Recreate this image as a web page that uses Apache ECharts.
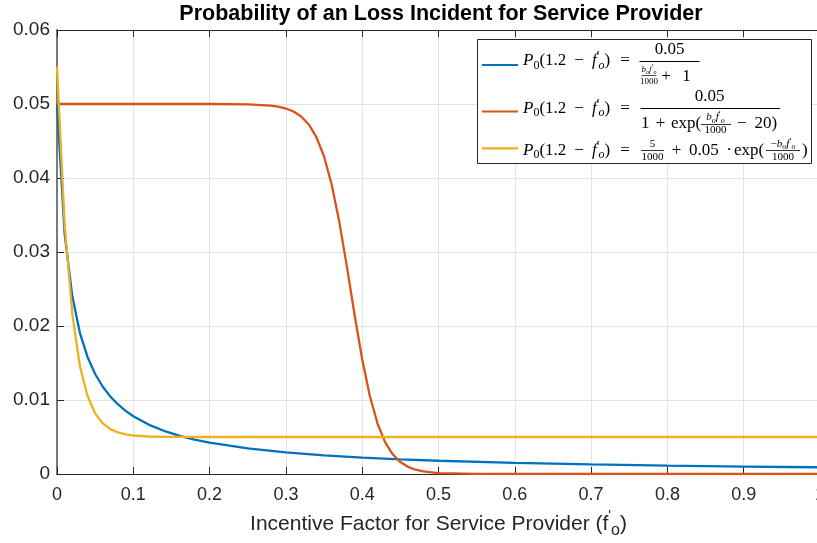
<!DOCTYPE html>
<html>
<head>
<meta charset="utf-8">
<script src="https://cdn.jsdelivr.net/npm/echarts@6/dist/echarts.min.js"></script>
<style>
  html, body { margin: 0; padding: 0; background: #fff; }
  #chart { width: 817px; height: 543px; }
</style>
</head>
<body>
<div id="chart"></div>
<script>
// Hyperbolic decay model
const blueF = [0, 0.01, 0.02, 0.03, 0.04, 0.05, 0.06, 0.07, 0.08, 0.09, 0.10, 0.12, 0.14, 0.16, 0.18, 0.20, 0.25, 0.30, 0.35, 0.40, 0.45, 0.50, 0.60, 0.70, 0.80, 0.90, 1.00];
const blueP = [0.05000, 0.03247, 0.02404, 0.01908, 0.01582, 0.01351, 0.01179, 0.01046, 0.00940, 0.00853, 0.00781, 0.00668, 0.00584, 0.00519, 0.00466, 0.00424, 0.00345, 0.00291, 0.00251, 0.00221, 0.00198, 0.00179, 0.00150, 0.00129, 0.00113, 0.00101, 0.00091];

// Logistic model
const redF = [0, 0.10, 0.20, 0.25, 0.28, 0.29, 0.30, 0.31, 0.32, 0.33, 0.34, 0.35, 0.36, 0.37, 0.38, 0.39, 0.40, 0.41, 0.42, 0.43, 0.44, 0.45, 0.46, 0.47, 0.48, 0.50, 0.55, 0.60, 1.00];
const redP = [0.05000, 0.05000, 0.05000, 0.04995, 0.04978, 0.04964, 0.04939, 0.04899, 0.04832, 0.04724, 0.04553, 0.04291, 0.03912, 0.03407, 0.02799, 0.02152, 0.01550, 0.01054, 0.00685, 0.00431, 0.00266, 0.00161, 0.00097, 0.00058, 0.00035, 0.00012, 0.00001, 0.00000, 0.00000];

// Exponential decay to a floor
const yellowF = [0, 0.01, 0.02, 0.03, 0.04, 0.05, 0.06, 0.07, 0.08, 0.09, 0.10, 0.12, 0.14, 0.16, 0.20, 1.00];
const yellowP = [0.05500, 0.03385, 0.02164, 0.01460, 0.01054, 0.00820, 0.00684, 0.00606, 0.00561, 0.00535, 0.00520, 0.00507, 0.00502, 0.00501, 0.00500, 0.00500];

const xTicks = ['0', '0.1', '0.2', '0.3', '0.4', '0.5', '0.6', '0.7', '0.8', '0.9', '1'];
const yTicks = ['0', '0.01', '0.02', '0.03', '0.04', '0.05', '0.06'];

const titleText = 'Probability of an Loss Incident for Service Provider';
const seriesColors = ['#0072BD', '#D95319', '#EDB120'];

const SANS = '"Liberation Sans", Arial, Helvetica, sans-serif';
const SERIF = '"Liberation Serif", "DejaVu Serif", serif';
const INK = '#000000';
const AXIS = '#262626';

function pairs(xs, ys) { return xs.map((x, i) => [x, ys[i]]); }

function richFor(size) {
  const sub = Math.round(size * 0.7);
  const pr = Math.round(size * 0.85);
  const lh = Math.round(size * 1.25);
  const base = { fontFamily: SERIF, fill: INK, color: INK };
  return {
    r: Object.assign({}, base, { fontSize: size, lineHeight: lh }),
    i: Object.assign({}, base, { fontSize: size, lineHeight: lh, fontStyle: 'italic' }),
    s: Object.assign({}, base, { fontSize: sub, lineHeight: sub, verticalAlign: 'bottom' }),
    si: Object.assign({}, base, { fontSize: sub, lineHeight: sub, verticalAlign: 'bottom', fontStyle: 'italic' }),
    p: Object.assign({}, base, { fontSize: pr, lineHeight: pr, verticalAlign: 'top', width: 2 }),
    g: Object.assign({}, base, { fontSize: size, lineHeight: lh, width: Math.round(size * 0.47) }),
    gg: Object.assign({}, base, { fontSize: size, lineHeight: lh, width: Math.round(size * 0.6) })
  };
}

function mtext(x, y, text, size, align) {
  const a = align || 'center';
  return {
    type: 'text', x: x, y: y, z: 101,
    style: {
      text: text, rich: richFor(size),
      fontFamily: SERIF, fontSize: size, fill: INK,
      align: a, verticalAlign: 'middle', textAlign: a, textVerticalAlign: 'middle'
    }
  };
}
function rule(x1, x2, y, w) {
  return { type: 'line', z: 101, shape: { x1: x1, y1: y, x2: x2, y2: y }, style: { stroke: INK, lineWidth: w || 1 } };
}
function swatch(y, color) {
  return { type: 'line', z: 101, shape: { x1: 482, y1: y, x2: 518, y2: y }, style: { stroke: color, lineWidth: 2.2 } };
}

const LHS = '{i|P}{s|0}{r|(1.2}{g| }{r|−}{g| }{i|f}{p|′}{si|o}{r|)}{gg| }{r|=}';
const BOF = '{i|b}{si|o}{i|f}{p|′}{si|o}';

const legendBox = [
  { type: 'rect', z: 100, shape: { x: 477.5, y: 39.5, width: 334, height: 124 }, style: { fill: '#ffffff', stroke: AXIS, lineWidth: 1 } },
  // first entry
  swatch(65, seriesColors[0]),
  mtext(523, 61, LHS, 17, 'left'),
  mtext(669.5, 49.5, '{r|0.05}', 17),
  rule(639.5, 699.5, 61.5, 1),
  mtext(649, 69.5, BOF, 9),
  rule(641.5, 656.5, 75.5, 0.7),
  mtext(649, 81.5, '{r|1000}', 9),
  mtext(666, 76.5, '{r|+}', 17),
  mtext(686.5, 76.5, '{r|1}', 17),
  // second entry
  swatch(111.5, seriesColors[1]),
  mtext(523, 108.5, LHS, 17, 'left'),
  mtext(709.5, 97, '{r|0.05}', 17),
  rule(640.5, 780, 108.5, 1),
  mtext(641, 124, '{r|1}', 17, 'left'),
  mtext(660.5, 124, '{r|+}', 17),
  mtext(671, 124, '{r|exp(}', 17, 'left'),
  mtext(715.5, 117.5, BOF, 11),
  rule(701, 731, 124.5, 0.8),
  mtext(715.5, 130.5, '{r|1000}', 11),
  mtext(737, 124, '{r|−}{g| }{r|20)}', 17, 'left'),
  // third entry
  swatch(148.3, seriesColors[2]),
  mtext(523, 150.7, LHS, 17, 'left'),
  mtext(652.5, 144, '{r|5}', 11),
  rule(641, 664, 150.5, 0.8),
  mtext(652.5, 157, '{r|1000}', 11),
  mtext(676.5, 150.7, '{r|+}', 17),
  mtext(689, 150.7, '{r|0.05}', 17, 'left'),
  mtext(729, 150.7, '{r|·}', 17),
  mtext(734, 150.7, '{r|exp(}', 17, 'left'),
  mtext(783, 144, '{r|−}' + BOF, 11),
  rule(766, 800, 150.5, 0.8),
  mtext(783, 157, '{r|1000}', 11),
  mtext(802, 150.7, '{r|)}', 17, 'left')
];

const chart = echarts.init(document.getElementById('chart'), null, { renderer: 'canvas' });

const scaleX = { type: 'value', min: 0, max: 1, interval: 0.1 };

chart.setOption({
  animation: false,
  backgroundColor: '#ffffff',
  title: {
    text: titleText,
    left: 441, top: 3, padding: 0,
    textAlign: 'center',
    textStyle: { fontFamily: SANS, fontSize: 21.5, fontWeight: 'bold', color: '#000000' }
  },
  grid: { left: 57, top: 30, width: 763, height: 444, containLabel: false, outerBoundsMode: 'none' },
  xAxis: [
    Object.assign({}, scaleX, {
      position: 'bottom',
      axisLine: { show: true, lineStyle: { color: AXIS, width: 1 } },
      axisTick: { show: true, inside: true, length: 7, lineStyle: { color: AXIS } },
      splitLine: { show: true, lineStyle: { color: '#e3e3e3', width: 1 } },
      axisLabel: {
        fontFamily: SANS, fontSize: 18, color: AXIS, margin: 12,
        formatter: (v) => xTicks[Math.round(v * 10)]
      },
      name: 'Incentive Factor for Service Provider (f{p|\'}{o|o})',
      nameLocation: 'middle',
      nameGap: 35,
      nameTextStyle: {
        fontFamily: SANS, fontSize: 21, color: AXIS, lineHeight: 30,
        rich: {
          p: { fontFamily: SANS, fontSize: 14, color: AXIS, lineHeight: 22, verticalAlign: 'top' },
          o: { fontFamily: SANS, fontSize: 16, color: AXIS, lineHeight: 10, verticalAlign: 'bottom' }
        }
      }
    }),
    Object.assign({}, scaleX, {
      position: 'top',
      axisLine: { show: true, lineStyle: { color: AXIS, width: 1 } },
      axisTick: { show: true, inside: true, length: 7, lineStyle: { color: AXIS } },
      axisLabel: { show: false },
      splitLine: { show: false }
    })
  ],
  yAxis: {
    type: 'value', min: 0, max: 0.06, interval: 0.01,
    axisLine: { show: true, lineStyle: { color: '#7a7a7a', width: 2 } },
    axisTick: { show: true, inside: true, length: 7, lineStyle: { color: AXIS } },
    splitLine: { show: true, lineStyle: { color: '#e3e3e3', width: 1 } },
    axisLabel: {
      fontFamily: SANS, fontSize: 19, color: AXIS, margin: 7,
      formatter: (v) => yTicks[Math.round(v * 100)]
    }
  },
  series: [
    { name: 'hyperbolic', type: 'line', data: pairs(blueF, blueP), showSymbol: false, symbol: 'none',
      lineStyle: { color: seriesColors[0], width: 2.3 }, itemStyle: { color: seriesColors[0] }, z: 3 },
    { name: 'logistic', type: 'line', data: pairs(redF, redP), showSymbol: false, symbol: 'none',
      lineStyle: { color: seriesColors[1], width: 2.3 }, itemStyle: { color: seriesColors[1] }, z: 4 },
    { name: 'exponential', type: 'line', data: pairs(yellowF, yellowP), showSymbol: false, symbol: 'none',
      lineStyle: { color: seriesColors[2], width: 2.3 }, itemStyle: { color: seriesColors[2] }, z: 5 }
  ],
  graphic: { elements: legendBox }
});
</script>
</body>
</html>
